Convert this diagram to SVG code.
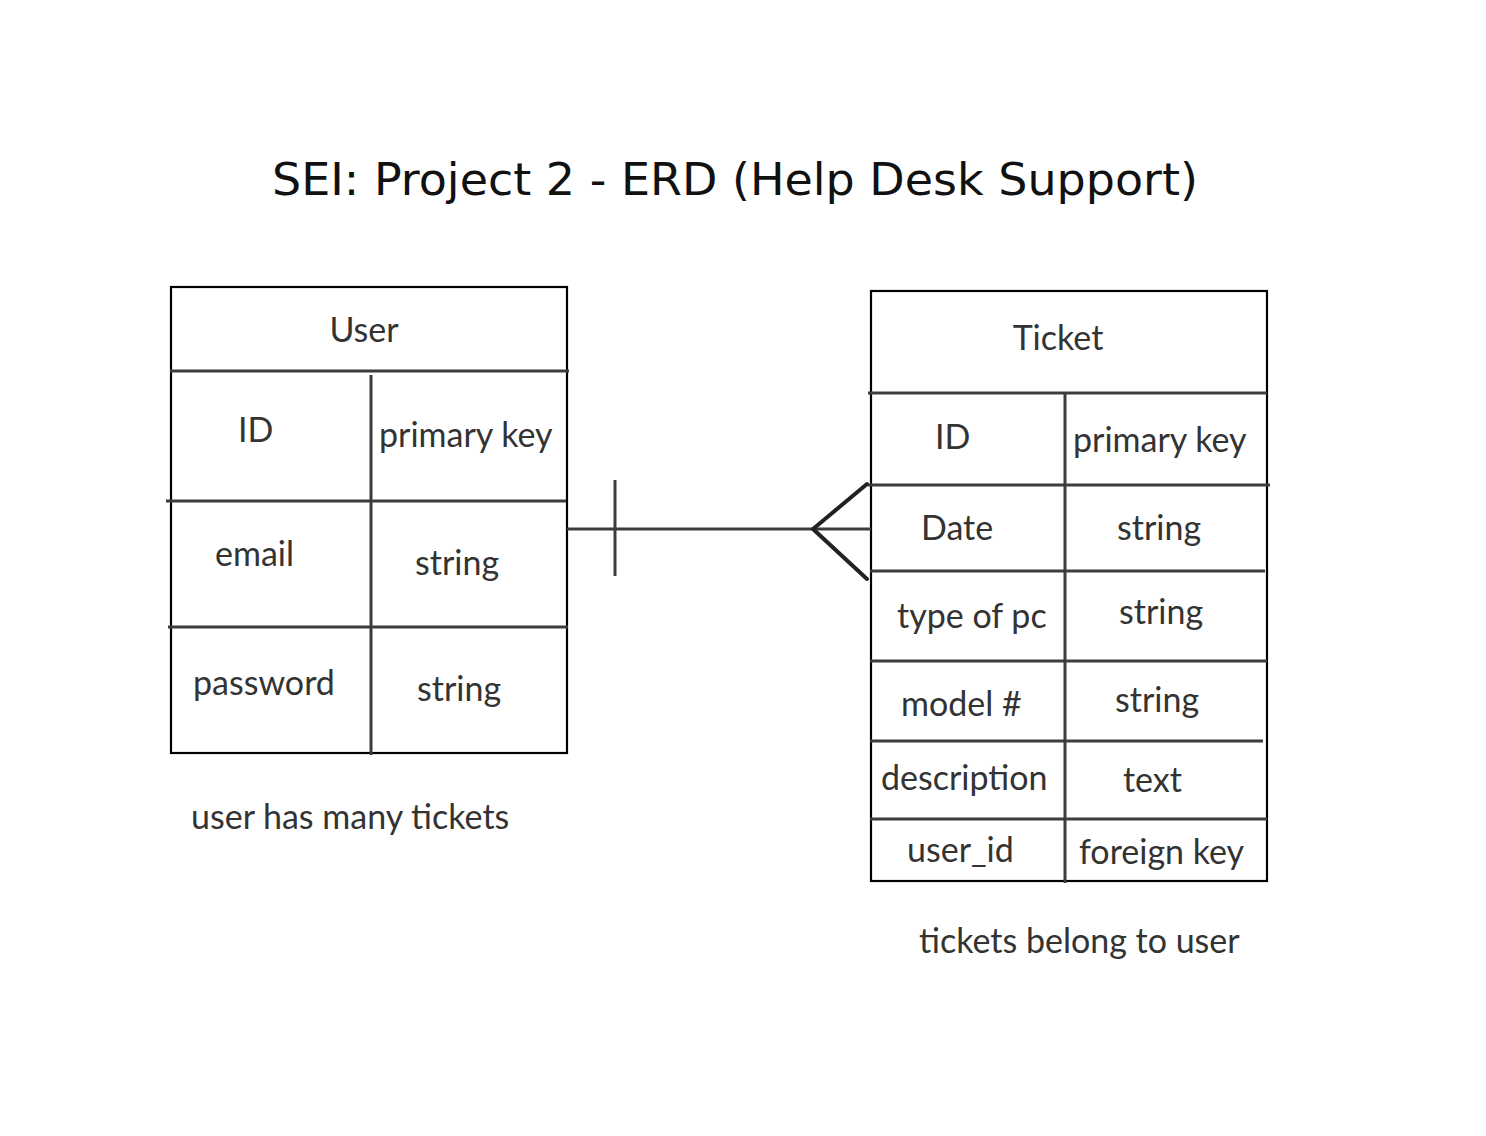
<svg xmlns="http://www.w3.org/2000/svg" width="1486" height="1136" viewBox="0 0 1486 1136">
<style>
.t{font-family:Lato,"Source Sans Pro","Noto Sans",sans-serif;font-size:34px;fill:#333}
.title{font-family:"DejaVu Sans","Liberation Sans",sans-serif;font-size:44px;fill:#111}
.box{fill:#fff;stroke:#000;stroke-width:2.2}
.ln{stroke:#3c3c3c;stroke-width:3;fill:none}
.cf{stroke:#222;stroke-width:4;fill:none;stroke-linecap:round;stroke-linejoin:miter}
</style>
<rect width="1486" height="1136" fill="#fff"/>
<text class="title" x="272" y="195" textLength="926" lengthAdjust="spacingAndGlyphs">SEI: Project 2 - ERD (Help Desk Support)</text>
<g id="user">
<rect class="box" x="171" y="287" width="396" height="466"/>
<line class="ln" x1="170" y1="371" x2="569" y2="371"/>
<line class="ln" x1="371" y1="375" x2="371" y2="755"/>
<line class="ln" x1="166" y1="501" x2="566" y2="501"/>
<line class="ln" x1="168" y1="627" x2="568" y2="627"/>
<text class="t" x="364" y="342" text-anchor="middle">User</text>
<text class="t" x="238" y="442">ID</text>
<text class="t" x="379" y="447">primary key</text>
<text class="t" x="215" y="566">email</text>
<text class="t" x="415" y="575">string</text>
<text class="t" x="193" y="695">password</text>
<text class="t" x="417" y="701">string</text>
</g>
<g id="ticket">
<rect class="box" x="871" y="291" width="396" height="590"/>
<line class="ln" x1="868" y1="393" x2="1267" y2="393"/>
<line class="ln" x1="1065" y1="393" x2="1065" y2="883"/>
<line class="ln" x1="868" y1="485" x2="1270" y2="485"/>
<line class="ln" x1="870" y1="571" x2="1265" y2="571"/>
<line class="ln" x1="870" y1="661" x2="1267" y2="661"/>
<line class="ln" x1="870" y1="741" x2="1263" y2="741"/>
<line class="ln" x1="870" y1="819" x2="1267" y2="819"/>
<text class="t" x="1058" y="350" text-anchor="middle">Ticket</text>
<text class="t" x="935" y="449">ID</text>
<text class="t" x="1073" y="452">primary key</text>
<text class="t" x="921" y="540">Date</text>
<text class="t" x="1117" y="540">string</text>
<text class="t" x="897" y="628">type of pc</text>
<text class="t" x="1119" y="624">string</text>
<text class="t" x="901" y="716">model #</text>
<text class="t" x="1115" y="712">string</text>
<text class="t" x="881" y="790">description</text>
<text class="t" x="1123" y="792">text</text>
<text class="t" x="907" y="862">user_id</text>
<text class="t" x="1079" y="864">foreign key</text>
</g>
<g id="connectors">
<line class="ln" x1="567" y1="529" x2="871" y2="529"/>
<line class="ln" x1="615" y1="480" x2="615" y2="576"/>
<polyline class="cf" points="867,484 813,529 867,579"/>
</g>
<text class="t" x="191" y="829">user has many tickets</text>
<text class="t" x="919" y="953">tickets belong to user</text>
</svg>
